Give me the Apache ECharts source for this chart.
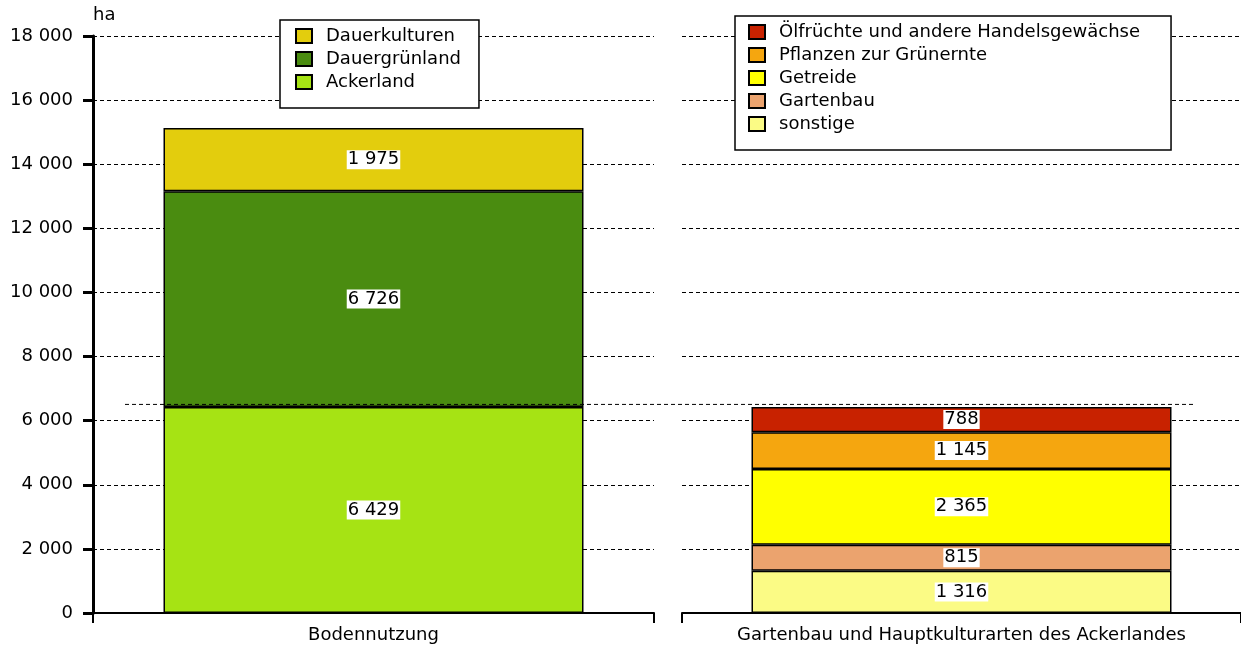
<!DOCTYPE html>
<html>
<head>
<meta charset="utf-8">
<script src="https://cdn.jsdelivr.net/npm/echarts@6/dist/echarts.min.js"></script>
<style>
  html, body { margin: 0; padding: 0; background: #fff; }
  #chart { width: 1241px; height: 649px; }
</style>
</head>
<body>
<div id="chart"></div>
<script>
// Daten
const leftCategory = ['Bodennutzung'];
const rightCategory = ['Gartenbau und Hauptkulturarten des Ackerlandes'];

const ackerland = [6429];
const dauergruenland = [6726];
const dauerkulturen = [1975];

const sonstige = [1316];
const gartenbau = [815];
const getreide = [2365];
const gruenernte = [1145];
const oelfruechte = [788];

const yTicks = [0, 2000, 4000, 6000, 8000, 10000, 12000, 14000, 16000, 18000];

const FONT = 'DejaVu Sans';
const FS = 18;
const fmt = v => String(v).replace(/\B(?=(\d{3})+(?!\d))/g, ' ');

const chart = echarts.init(document.getElementById('chart'));

const barLabel = {
  show: true,
  position: 'inside',
  color: '#000',
  fontFamily: FONT,
  fontSize: FS,
  backgroundColor: '#fff',
  padding: [1, 1, 0, 1],
  formatter: p => fmt(p.value)
};

const mkSeries = (name, data, color, idx) => ({
  name,
  type: 'bar',
  stack: 's' + idx,
  xAxisIndex: idx,
  yAxisIndex: idx,
  barWidth: 420,
  data,
  itemStyle: { color, borderColor: '#000', borderWidth: 1.5 },
  label: barLabel
});

const legendBase = {
  orient: 'vertical',
  itemWidth: 16,
  itemHeight: 14,
  itemGap: 5,
  icon: 'rect',
  backgroundColor: '#fff',
  borderColor: '#000',
  borderWidth: 1.5,
  borderRadius: 0,
  textStyle: { fontFamily: FONT, fontSize: FS, color: '#000', lineHeight: 18, padding: [0, 0, 0, 9] }
};

const xAxisBase = {
  type: 'category',
  axisLine: { lineStyle: { color: '#000', width: 2 } },
  axisTick: { show: true, length: 10, lineStyle: { color: '#000', width: 2 } },
  axisLabel: { color: '#000', fontFamily: FONT, fontSize: FS, margin: 13 }
};

const splitLine = { show: true, lineStyle: { color: '#000', width: 1, type: [4, 3] } };

chart.setOption({
  animation: false,
  grid: [
    { left: 93, top: 36, bottom: 36, width: 561 },
    { left: 682, top: 36, bottom: 36, right: -6 }
  ],
  legend: [
    Object.assign({}, legendBase, {
      left: 280, top: 20,
      padding: [7, 18, 17, 15],
      data: ['Dauerkulturen', 'Dauergrünland', 'Ackerland']
    }),
    Object.assign({}, legendBase, {
      left: 735, top: 16,
      padding: [7, 31, 17, 13],
      data: ['Ölfrüchte und andere Handelsgewächse', 'Pflanzen zur Grünernte', 'Getreide', 'Gartenbau', 'sonstige']
    })
  ],
  xAxis: [
    Object.assign({}, xAxisBase, { gridIndex: 0, data: leftCategory }),
    Object.assign({}, xAxisBase, { gridIndex: 1, data: rightCategory })
  ],
  yAxis: [
    {
      type: 'value', gridIndex: 0,
      min: yTicks[0], max: yTicks[yTicks.length - 1], interval: 2000,
      name: 'ha',
      nameLocation: 'end',
      nameGap: 12,
      nameTextStyle: { color: '#000', fontFamily: FONT, fontSize: FS, align: 'left' },
      axisLine: { show: true, lineStyle: { color: '#000', width: 3 } },
      axisTick: { show: true, length: 10, lineStyle: { color: '#000', width: 3 } },
      axisLabel: { color: '#000', fontFamily: FONT, fontSize: FS, margin: 20, formatter: v => fmt(v) },
      splitLine
    },
    {
      type: 'value', gridIndex: 1,
      min: yTicks[0], max: yTicks[yTicks.length - 1], interval: 2000,
      axisLine: { show: false },
      axisTick: { show: false },
      axisLabel: { show: false },
      splitLine
    }
  ],
  series: [
    mkSeries('Ackerland', ackerland, '#A6E314', 0),
    mkSeries('Dauergrünland', dauergruenland, '#4A8C10', 0),
    mkSeries('Dauerkulturen', dauerkulturen, '#E3CD0D', 0),
    mkSeries('sonstige', sonstige, '#FBFB85', 1),
    mkSeries('Gartenbau', gartenbau, '#EBA36E', 1),
    mkSeries('Getreide', getreide, '#FFFF00', 1),
    mkSeries('Pflanzen zur Grünernte', gruenernte, '#F5A60F', 1),
    mkSeries('Ölfrüchte und andere Handelsgewächse', oelfruechte, '#C82200', 1)
  ]
});

// gestrichelte Verbindungslinie auf Höhe des Ackerlandes
const yAcker = chart.convertToPixel({ yAxisIndex: 0 }, ackerland[0]) - 2.5;
chart.setOption({
  graphic: [{
    type: 'line',
    z: 100,
    shape: { x1: 125, y1: yAcker, x2: 1195, y2: yAcker },
    style: { stroke: '#000', lineWidth: 1, lineDash: [4, 3] }
  }]
});
</script>
</body>
</html>
